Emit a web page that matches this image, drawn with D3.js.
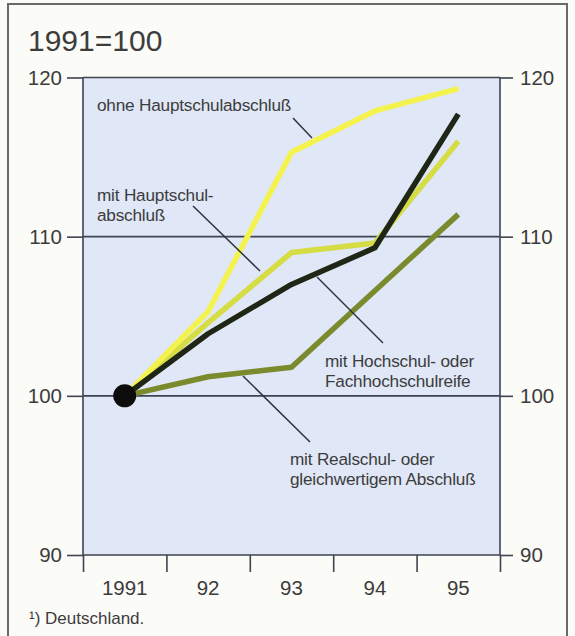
<!DOCTYPE html>
<html>
<head>
<meta charset="utf-8">
<script src="https://cdn.jsdelivr.net/npm/d3@7"></script>
<style>
  body { margin: 0; background: #fbfbf8; }
  svg text { font-family: "Liberation Sans", Arial, sans-serif; fill: #3c3c3c; }
</style>
</head>
<body>
<svg id="chart" width="575" height="636"></svg>
<script>
// values, index 1991 = 100
var years = ["1991", "92", "93", "94", "95"];
var yTicks = [90, 100, 110, 120];
var ohneHauptschul = [100, 105.3, 115.3, 117.9, 119.3];
var mitHauptschul = [100, 104.6, 109.0, 109.6, 116.0];
var hochschul = [100, 103.9, 107.0, 109.3, 117.7];
var realschul = [100, 101.2, 101.8, 106.6, 111.4];

var seriesNames = ["mitHauptschul", "ohneHauptschul", "realschul", "hochschul"];
var seriesValues = [mitHauptschul, ohneHauptschul, realschul, hochschul];
var seriesColors = ["#d5dc44", "#f4f34e", "#7c8a2e", "#1f2616"];

var title = "1991=100";
var footnote = "\u00b9) Deutschland.";

var svg = d3.select("#chart");

// frame around the whole figure
svg.append("path")
  .attr("d", "M8,640 V4 H567 V640")
  .attr("fill", "none")
  .attr("stroke", "#6a6a66")
  .attr("stroke-width", 2);

// plot box (named so they don't clash with window.top)
var pLeft = 83, pRight = 500, pTop = 77.5, pBottom = 555;

var x = d3.scaleBand().domain(years).range([pLeft, pRight]);
var xEdge = d3.scaleLinear().domain([0, years.length]).range([pLeft, pRight]);
var y = d3.scaleLinear().domain([90, 120]).range([pBottom, pTop]);

// plot background
svg.append("rect")
  .attr("x", pLeft).attr("y", pTop)
  .attr("width", pRight - pLeft).attr("height", pBottom - pTop)
  .attr("fill", "#e0e7f6");

// horizontal rules at every tick
svg.selectAll("line.grid")
  .data(yTicks)
  .enter().append("line")
  .attr("class", "grid")
  .attr("x1", pLeft).attr("x2", pRight)
  .attr("y1", function(d) { return y(d); })
  .attr("y2", function(d) { return y(d); })
  .attr("stroke", "#3e4350")
  .attr("stroke-width", 1.6);

// y axes both sides
var yl = svg.append("g").attr("transform", "translate(" + pLeft + ",0)")
  .call(d3.axisLeft(y).tickValues(yTicks).tickSize(16).tickPadding(5));
var yr = svg.append("g").attr("transform", "translate(" + pRight + ",0)")
  .call(d3.axisRight(y).tickValues(yTicks).tickSize(13).tickPadding(7));
[yl, yr].forEach(function(g) {
  g.select(".domain").remove();
  g.selectAll("line").attr("stroke", "#3e4350").attr("stroke-width", 1.6);
  g.selectAll("text").attr("font-size", 20.5).attr("fill", "#4a4a4a")
    .attr("font-family", "Liberation Sans, Arial, sans-serif");
});

// verticals of the plot box, running down into the x ticks
var xa = svg.append("g").attr("transform", "translate(0," + pBottom + ")")
  .call(d3.axisBottom(xEdge).ticks(years.length).tickSize(17).tickFormat(""));
xa.select(".domain").remove();
xa.selectAll("line").attr("stroke", "#3e4350").attr("stroke-width", 1.6);

[pLeft, pRight].forEach(function(px) {
  svg.append("line")
    .attr("x1", px).attr("x2", px).attr("y1", pTop).attr("y2", pBottom)
    .attr("stroke", "#3e4350").attr("stroke-width", 1.6);
});

svg.selectAll("text.year")
  .data(years)
  .enter().append("text")
  .attr("class", "year")
  .attr("x", function(d) { return x(d) + x.bandwidth() / 2; })
  .attr("y", 595)
  .attr("text-anchor", "middle")
  .attr("font-size", 20.5)
  .attr("fill", "#4a4a4a")
  .text(function(d) { return d; });

// lines
var line = d3.line()
  .x(function(d, i) { return x(years[i]) + x.bandwidth() / 2; })
  .y(function(d) { return y(d); });

svg.selectAll("path.series")
  .data(seriesValues)
  .enter().append("path")
  .attr("class", "series")
  .attr("d", line)
  .attr("fill", "none")
  .attr("stroke", function(d, i) { return seriesColors[i]; })
  .attr("stroke-width", 5.5)
  .attr("stroke-linejoin", "round");

// base point
svg.append("circle")
  .attr("cx", x(years[0]) + x.bandwidth() / 2)
  .attr("cy", y(100))
  .attr("r", 11.5)
  .attr("fill", "#0c0c0c");

// annotation texts and leader lines
var labels = [
  { lines: ["ohne Hauptschulabschlu\u00df"], x: 97, y: 111, lead: [293, 118, 312, 138] },
  { lines: ["mit Hauptschul-", "abschlu\u00df"], x: 97, y: 201, lead: [193, 206, 260, 271] },
  { lines: ["mit Hochschul- oder", "Fachhochschulreife"], x: 325, y: 367, lead: [317, 277, 383, 343] },
  { lines: ["mit Realschul- oder", "gleichwertigem Abschlu\u00df"], x: 290, y: 465, lead: [243, 376, 310, 442] }
];

labels.forEach(function(l) {
  svg.append("line")
    .attr("x1", l.lead[0]).attr("y1", l.lead[1])
    .attr("x2", l.lead[2]).attr("y2", l.lead[3])
    .attr("stroke", "#2e3340").attr("stroke-width", 1.5);
  var t = svg.append("text").attr("x", l.x).attr("y", l.y)
    .attr("font-size", 17.2).attr("letter-spacing", -0.2).attr("fill", "#404040");
  l.lines.forEach(function(s, i) {
    t.append("tspan").attr("x", l.x).attr("dy", i === 0 ? 0 : 20).text(s);
  });
});

svg.append("text")
  .attr("x", 28).attr("y", 51)
  .attr("font-size", 30)
  .attr("fill", "#333")
  .text(title);

svg.append("text")
  .attr("x", 29).attr("y", 624)
  .attr("font-size", 17)
  .attr("fill", "#444")
  .text(footnote);
</script>
</body>
</html>
